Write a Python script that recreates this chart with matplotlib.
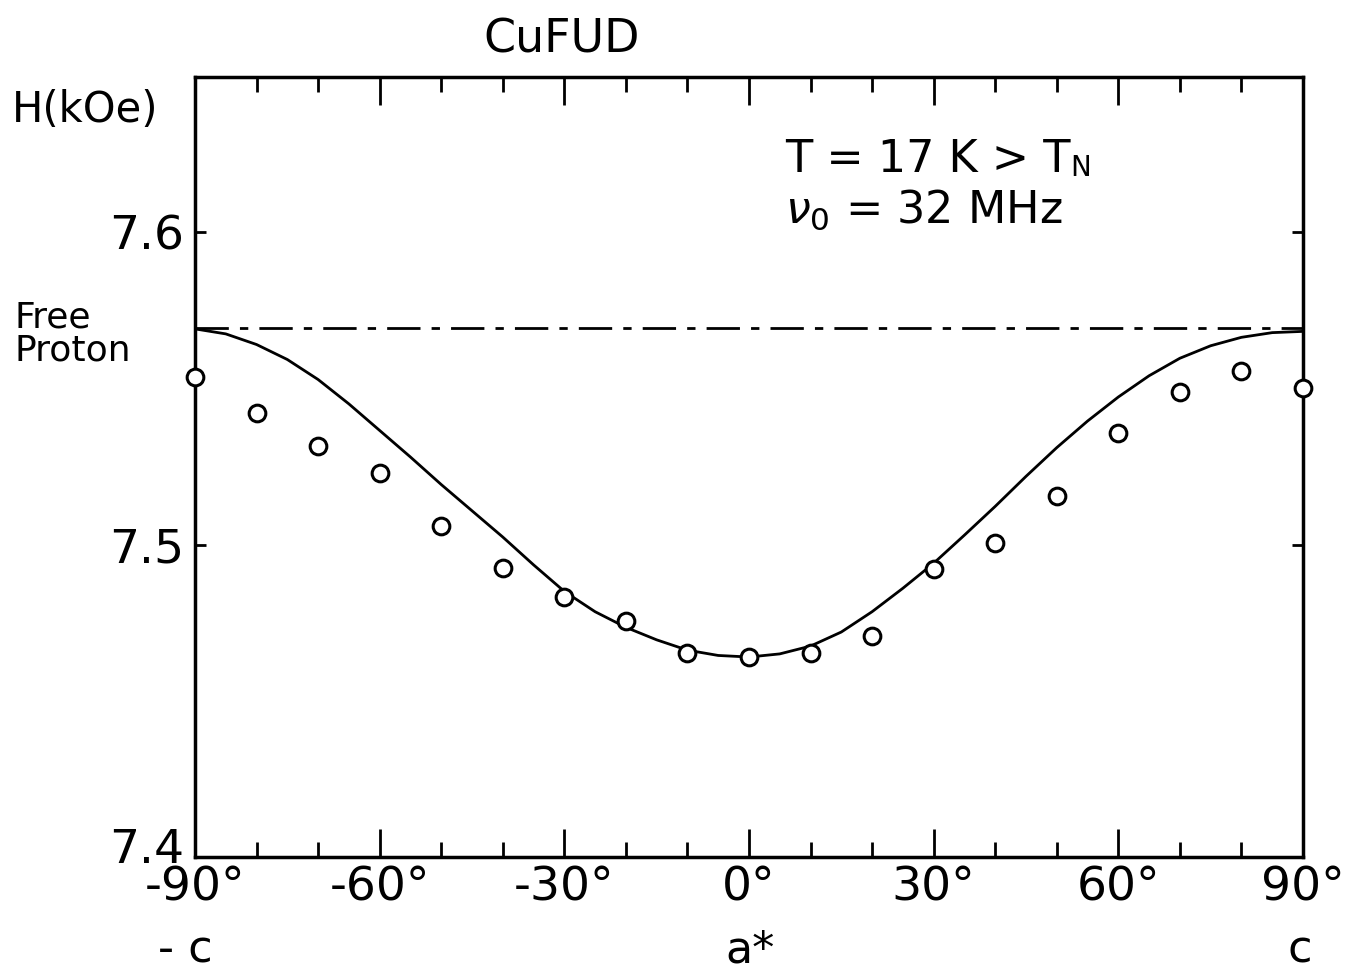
import matplotlib
matplotlib.use("Agg")
import matplotlib.pyplot as plt
import matplotlib.transforms as mtransforms
from matplotlib.ticker import FixedLocator

plt.rcParams['font.family'] = ['DejaVu Sans']

# measured resonance field vs. rotation angle (a* at 0, c at +-90)
angle_pts = [-90, -80, -70, -60, -50, -40, -30, -20, -10, 0,
             10, 20, 30, 40, 50, 60, 70, 80, 90]
h_pts = [7.5536, 7.5420, 7.5315, 7.5229, 7.5059, 7.4925, 7.4832, 7.4755, 7.4653, 7.4640,
         7.4653, 7.4707, 7.4922, 7.5005, 7.5155, 7.5357, 7.5488, 7.5555, 7.5500]

# calculated curve
angle_calc = [-90, -85, -80, -75, -70, -65, -60, -55, -50, -45, -40, -35, -30, -25, -20,
              -15, -10, -5, 0, 5, 10, 15, 20, 25, 30, 35, 40, 45, 50, 55, 60, 65,
              70, 75, 80, 85, 90]
h_calc = [7.5690, 7.5674, 7.5640, 7.5592, 7.5528, 7.5450, 7.5365, 7.5280, 7.5192, 7.5108,
          7.5024, 7.4935, 7.4850, 7.4785, 7.4735, 7.4695, 7.4662, 7.4645, 7.4640, 7.4650,
          7.4675, 7.4720, 7.4785, 7.4860, 7.4940, 7.5030, 7.5122, 7.5218, 7.5310, 7.5395,
          7.5472, 7.5540, 7.5596, 7.5636, 7.5663, 7.5678, 7.5682]

h_free = 7.5693

x_ticks = [-90, -60, -30, 0, 30, 60, 90]
x_minor = [-80, -70, -50, -40, -20, -10, 10, 20, 40, 50, 70, 80]
y_ticks = [7.4, 7.5, 7.6]

fig = plt.figure(figsize=(13.55, 9.76), dpi=100)
ax = fig.add_axes([0.1439, 0.1219, 0.8177, 0.7992])

ax.axhline(h_free, color='black', lw=2.0, dashes=(12, 4, 3, 4), zorder=1)
ax.plot(angle_calc, h_calc, color='black', lw=2.0, zorder=2)
ax.plot(angle_pts, h_pts, 'o', ms=12, mfc='white', mec='black', mew=2.2,
        clip_on=False, zorder=3)

ax.set_xlim(-90, 90)
ax.set_ylim(7.4, 7.6496)

ax.xaxis.set_major_locator(FixedLocator(x_ticks))
ax.xaxis.set_minor_locator(FixedLocator(x_minor))
ax.yaxis.set_major_locator(FixedLocator(y_ticks))
ax.set_xticklabels([f"{v}\u00b0" for v in x_ticks])
ax.set_yticklabels([f"{v:.1f}" for v in y_ticks])

ax.tick_params(axis='x', which='major', direction='in', length=20, width=2,
               top=True, labelsize=34, pad=6)
ax.tick_params(axis='x', which='minor', direction='in', length=11, width=2, top=True)
ax.tick_params(axis='y', which='major', direction='in', length=8, width=2,
               right=True, labelsize=34, pad=8)
for s in ax.spines.values():
    s.set_linewidth(2.5)

# lift the bottom y label clear of the -90 label
lbl = ax.get_yticklabels()[0]
lbl.set_transform(lbl.get_transform() +
                  mtransforms.ScaledTranslation(0, 12 / 100, fig.dpi_scale_trans))

fig.text(562 / 1355, 1 - 40 / 976, "CuFUD", ha='center', va='center', fontsize=33)
fig.text(12 / 1355, 1 - 110 / 976, "H(kOe)", ha='left', va='center', fontsize=30)
fig.text(14 / 1355, 1 - 334 / 976, "Free\nProton", ha='left', va='center',
         fontsize=26, linespacing=0.95)

t1 = fig.text(785 / 1355, 1 - 160 / 976, "T = 17 K > T", ha='left', va='center', fontsize=32)
fig.canvas.draw()
bb = t1.get_window_extent()
fig.text(bb.x1 / fig.bbox.width, 1 - 168 / 976, "N", ha='left', va='center', fontsize=20)
fig.text(785 / 1355, 1 - 210 / 976, r"$\nu_0$ = 32 MHz", ha='left', va='center', fontsize=32)

for x, lab in [(185, "- c"), (750, "a*"), (1300, "c")]:
    fig.text(x / 1355, 1 - 950 / 976, lab, ha='center', va='center', fontsize=32)

fig.savefig("out.png", dpi=100)
